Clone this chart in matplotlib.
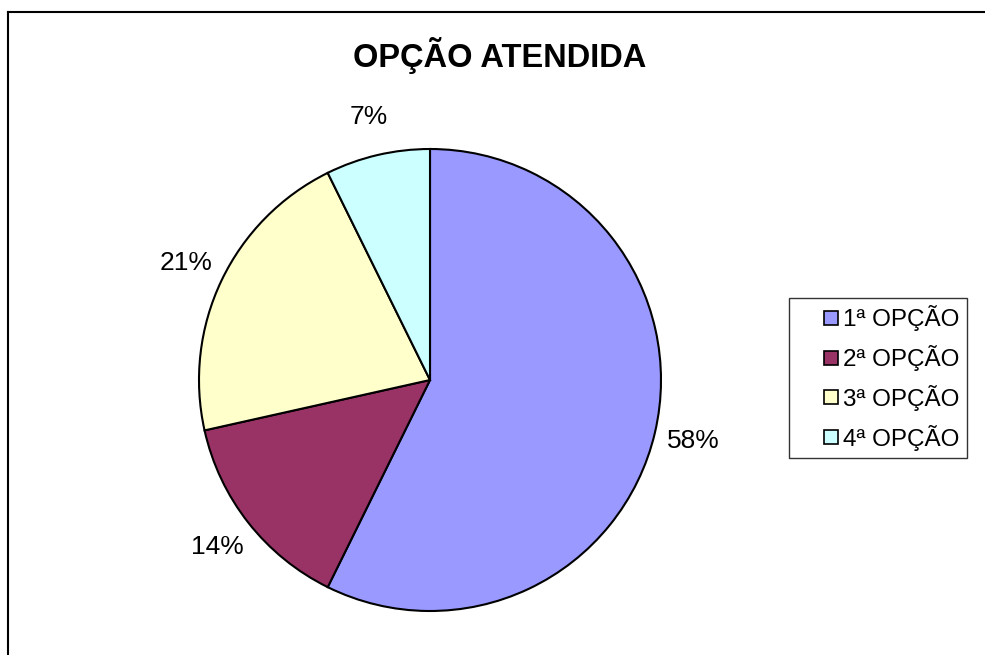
import matplotlib
matplotlib.use("Agg")
import matplotlib.pyplot as plt
from matplotlib.lines import Line2D
from matplotlib.patches import Patch, Rectangle
from matplotlib.legend_handler import HandlerPatch

plt.rcParams['font.family'] = ['Liberation Sans', 'DejaVu Sans']

title = "OPÇÃO ATENDIDA"
categories = ["1ª OPÇÃO", "2ª OPÇÃO", "3ª OPÇÃO", "4ª OPÇÃO"]
values = [57.3, 14.2, 21.2, 7.3]
# percentage labels as printed on the chart
pct_labels = ["58%", "14%", "21%", "7%"]
colors = ["#9999FF", "#993366", "#FFFFCC", "#CCFFFF"]

W, H = 985, 655
fig = plt.figure(figsize=(W / 100, H / 100), dpi=100)

cx, cy, r = 430, 380, 231
ax = fig.add_axes([(cx - r) / W, (H - cy - r) / H, 2 * r / W, 2 * r / H])
wedges, texts, autotexts = ax.pie(
    values, colors=colors, startangle=90, counterclock=False, radius=1,
    autopct='%1.0f%%', pctdistance=1.17,
    wedgeprops=dict(edgecolor='black', linewidth=1.5),
    textprops=dict(fontsize=19, color='black'))
for t, lab in zip(autotexts, pct_labels):
    t.set_text(lab)
ax.set_xlim(-1, 1)
ax.set_ylim(-1, 1)
ax.set_aspect('equal')
ax.axis('off')

fig.text(500 / W, 1 - 56 / H, title, ha='center', va='center',
         fontsize=23.5, fontweight='bold')


def make_square(legend, orig_handle, xdescent, ydescent, width, height, fontsize):
    s = 10.0
    return Rectangle((-xdescent + width - s, -ydescent + (height - s) / 2), s, s)


handles = [Patch(facecolor=c, edgecolor='black', linewidth=1.2) for c in colors]
leg = fig.legend(handles, categories, loc='center',
                 bbox_to_anchor=(878 / W, 1 - 378 / H),
                 fontsize=17.5, frameon=True, fancybox=False,
                 handlelength=1.7, handleheight=0.7, handletextpad=0.2,
                 labelspacing=0.57, borderpad=0.3, borderaxespad=0,
                 handler_map={Patch: HandlerPatch(patch_func=make_square)})
leg.get_frame().set_edgecolor('black')
leg.get_frame().set_linewidth(1.0)

# outer chart border (top and left visible)
x0, y0 = 8 / W, 1 - 12 / H
fig.add_artist(Line2D([x0, 1.0], [y0, y0], color='black', linewidth=1.5,
                      transform=fig.transFigure))
fig.add_artist(Line2D([x0, x0], [0, y0], color='black', linewidth=1.5,
                      transform=fig.transFigure))

fig.savefig("out.png", dpi=100, facecolor='white')
